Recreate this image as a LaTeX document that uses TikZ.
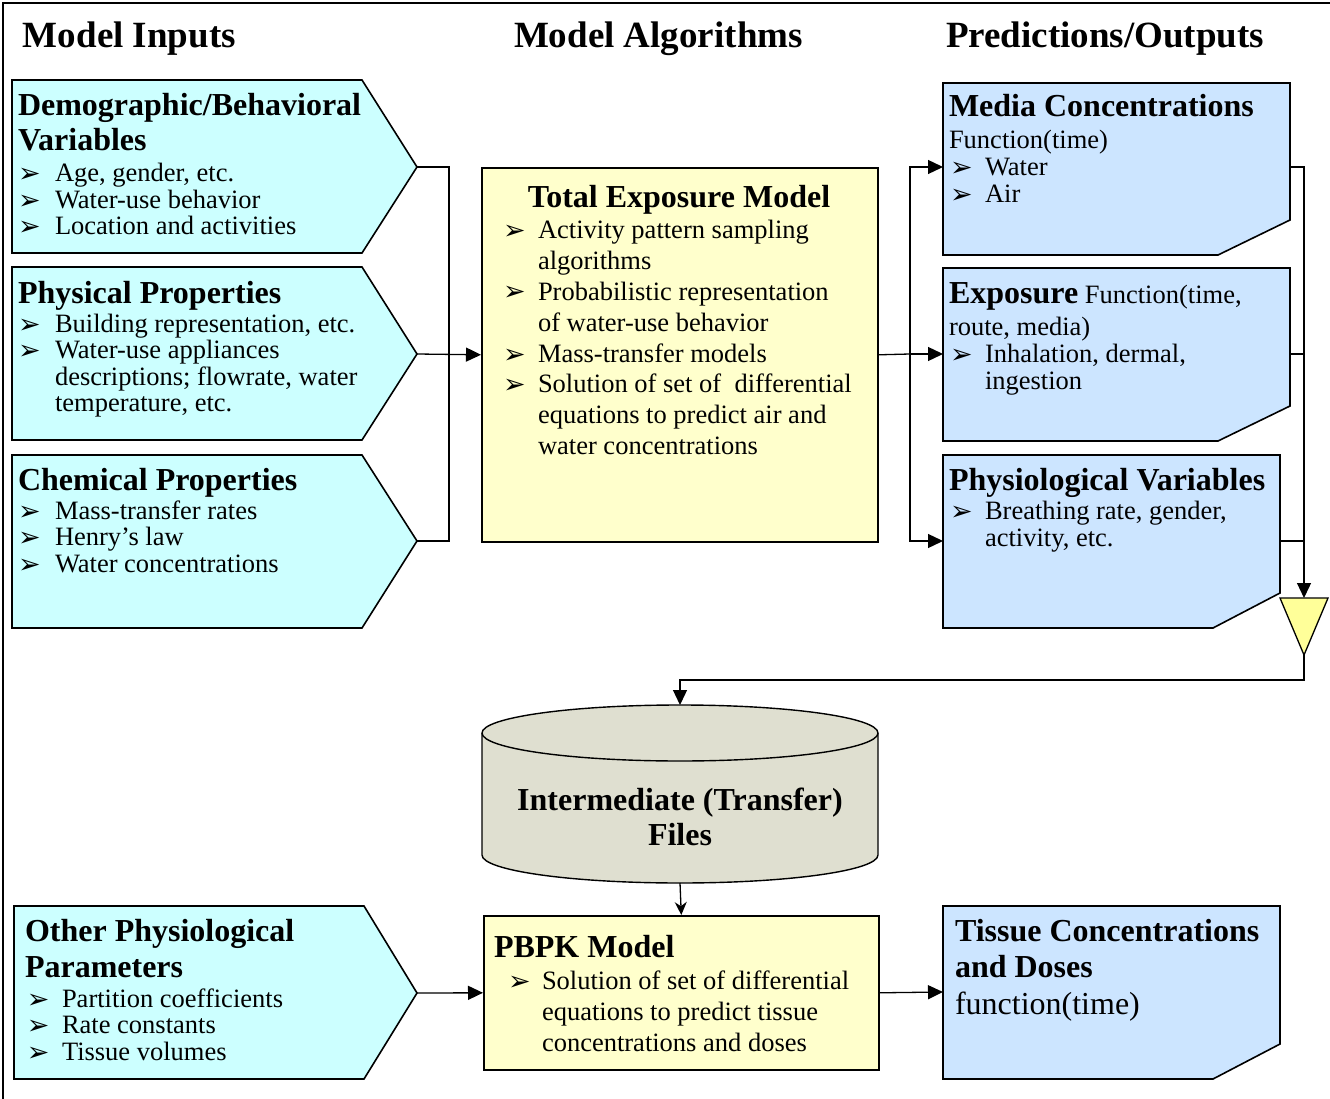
\documentclass[tikz,border=0pt]{standalone}
\usepackage{fontspec}
\setmainfont{Liberation Serif}
\newfontfamily\dvfont{DejaVu Sans}
\usetikzlibrary{arrows.meta}
\definecolor{cyanfill}{HTML}{CCFFFF}
\definecolor{bluefill}{HTML}{CCE5FF}
\definecolor{yelfill}{HTML}{FFFFCC}
\definecolor{trifill}{HTML}{FFFF99}
\definecolor{cylfill}{HTML}{DFDFD0}
\newcommand\sectf{\fontsize{37}{40}\selectfont\bfseries}
\newcommand\headf{\fontsize{32}{35}\selectfont\bfseries}
\newcommand\bodyf{\fontsize{26.5}{26.5}\selectfont}
\newcommand\bigf{\fontsize{32}{35}\selectfont}
\newcommand\bulglyph{{\dvfont\fontsize{27}{27}\selectfont ➢}}
\newcounter{tlc}
\newcommand\txtline[3]{\stepcounter{tlc}\node[txt] (t\arabic{tlc}) at (#1,#2) {#3};}
\newcommand\ctrline[3]{\stepcounter{tlc}\node[ctxt] (t\arabic{tlc}) at (#1,#2) {#3};}
\newcommand\bitem[4]{\stepcounter{tlc}\node[txt] (b\arabic{tlc}) at (#1,#3+1) {\bulglyph};\txtline{#2}{#3}{\bodyf #4}}
\begin{document}
\begin{tikzpicture}[x=1pt,y=-1pt,
  txt/.style={anchor=base west, inner sep=0pt, outer sep=0pt},
  ctxt/.style={anchor=base, inner sep=0pt, outer sep=0pt},
  inbox/.style={draw=black, line width=1.6pt, fill=cyanfill, line join=miter},
  outbox/.style={draw=black, line width=1.6pt, fill=bluefill, line join=miter},
  algbox/.style={draw=black, line width=1.6pt, fill=yelfill, inner sep=0pt, anchor=north west},
  conn/.style={draw=black, line width=1.3pt},
  arr/.style={conn, -{Triangle[length=15pt,width=14pt]}},
  arrsmall/.style={conn, -{Stealth[length=13pt,width=12pt]}}]
\useasboundingbox (0,0) rectangle (1330,1099);
\fill[white] (0,0) rectangle (1330,1099);
% frame
\draw[line width=1.2pt] (3,1099) -- (3,3) -- (1330,3);

% section titles
\txtline{23}{48}{\sectf Model Inputs}
\txtline{514}{48}{\sectf Model Algorithms}
\txtline{946}{48}{\sectf Predictions/Outputs}

% input boxes
\draw[inbox] (12,80) -- (362,80) -- (417,167) coordinate (demoTip) -- (362,253) -- (12,253) -- cycle;
\draw[inbox] (12,267) -- (362,267) -- (417,354) coordinate (physTip) -- (362,440) -- (12,440) -- cycle;
\draw[inbox] (12,455) -- (362,455) -- (417,541) coordinate (chemTip) -- (362,628) -- (12,628) -- cycle;
\draw[inbox] (14,906) -- (364,906) -- (417,993) coordinate (otherTip) -- (364,1079) -- (14,1079) -- cycle;

% algorithm boxes
\node[algbox, minimum width=396pt, minimum height=374pt] (tem) at (481,167) {};
\node[algbox, minimum width=395pt, minimum height=154pt] (pbpk) at (483,915) {};

% output boxes
\draw[outbox] (943,83) -- (1290,83) -- (1290,220) -- (1218,255) -- (943,255) -- cycle;
\draw[outbox] (943,268) -- (1290,268) -- (1290,406) -- (1218,441) -- (943,441) -- cycle;
\draw[outbox] (943,455) -- (1280,455) -- (1280,593) -- (1213,628) -- (943,628) -- cycle;
\draw[outbox] (943,906) -- (1280,906) -- (1280,1044) -- (1213,1079) -- (943,1079) -- cycle;
\coordinate (mediaW) at (943,167);
\coordinate (expoW) at (943,354);
\coordinate (physioW) at (943,541);
\coordinate (tissueW) at (943,992);
\coordinate (mediaE) at (1290,167);
\coordinate (expoE) at (1290,354);
\coordinate (physioE) at (1280,541);

% merge triangle
\filldraw[draw=black, line width=1.3pt, fill=trifill] (1280,598) -- (1304,598) coordinate (triTop) -- (1328,598) -- (1304,655) coordinate (triBot) -- cycle;

% cylinder
\filldraw[draw=black, line width=1.4pt, fill=cylfill]
  (482,733) -- (482,855) arc[start angle=180, end angle=360, x radius=198pt, y radius=28pt]
  -- (878,733) arc[start angle=0, end angle=180, x radius=198pt, y radius=28pt] -- cycle;
\draw[line width=1.4pt] (482,733) arc[start angle=180, end angle=360, x radius=198pt, y radius=28pt];
\coordinate (cylTop) at (680,705);
\coordinate (cylBot) at (680,883);

% junctions
\coordinate (jl) at (449,354);
\coordinate (jr) at (910,354);
\coordinate (jb) at (1304,680);

% connectors
\draw[conn] (demoTip) -| (jl) |- (chemTip);
\draw[arr] (physTip) -- (tem.west);
\draw[conn] (tem.east) -- (jr);
\draw[arr] (jr) |- (mediaW);
\draw[arr] (jr) -- (expoW);
\draw[arr] (jr) |- (physioW);
\draw[arr] (mediaE) -| (triTop);
\draw[conn] (expoE) -- (expoE -| triTop);
\draw[conn] (physioE) -- (physioE -| triTop);
\draw[arr] (triBot) -- (jb) -| (cylTop);
\draw[arrsmall] (cylBot) -- (pbpk.north);
\draw[arr] (otherTip) -- (pbpk.west);
\draw[arr] (pbpk.east) -- (tissueW);

% texts: demographic
\txtline{18}{116}{\headf Demographic/Behavioral}
\txtline{18}{151}{\headf Variables}
\bitem{18}{55}{182}{Age, gender, etc.}
\bitem{18}{55}{208.5}{Water-use behavior}
\bitem{18}{55}{235}{Location and activities}
% physical
\txtline{18}{303}{\headf Physical Properties}
\bitem{18}{55}{332}{Building representation, etc.}
\bitem{18}{55}{358.5}{Water-use appliances}
\txtline{55}{385}{\bodyf descriptions; flowrate, water}
\txtline{55}{411.5}{\bodyf temperature, etc.}
% chemical
\txtline{18}{490}{\headf Chemical Properties}
\bitem{18}{55}{519}{Mass-transfer rates}
\bitem{18}{55}{545.5}{Henry’s law}
\bitem{18}{55}{572}{Water concentrations}
% total exposure model
\ctrline{679}{208}{\headf Total Exposure Model}
\bitem{503}{538}{239}{Activity pattern sampling}
\txtline{538}{270}{\bodyf algorithms}
\bitem{503}{538}{300}{Probabilistic representation}
\txtline{538}{331}{\bodyf of water-use behavior}
\bitem{503}{538}{362}{Mass-transfer models}
\bitem{503}{538}{392}{Solution of set of\ \ differential}
\txtline{538}{423}{\bodyf equations to predict air and}
\txtline{538}{454}{\bodyf water concentrations}
% media
\txtline{949}{117}{\headf Media Concentrations}
\txtline{949}{149}{\bodyf Function(time)}
\bitem{950}{985}{176}{Water}
\bitem{950}{985}{203}{Air}
% exposure
\txtline{949}{303}{{\headf Exposure}{\bodyf\ Function(time,}}
\txtline{949}{335}{\bodyf route, media)}
\bitem{950}{985}{362}{Inhalation, dermal,}
\txtline{985}{389}{\bodyf ingestion}
% physiological
\txtline{949}{490}{\headf Physiological Variables}
\bitem{950}{985}{519}{Breathing rate, gender,}
\txtline{985}{546}{\bodyf activity, etc.}
% cylinder text
\ctrline{680}{810}{\headf Intermediate (Transfer)}
\ctrline{680}{845}{\headf Files}
% other physiological
\txtline{25}{941}{\headf Other Physiological}
\txtline{25}{977}{\headf Parameters}
\bitem{27}{62}{1007}{Partition coefficients}
\bitem{27}{62}{1033.5}{Rate constants}
\bitem{27}{62}{1060}{Tissue volumes}
% pbpk
\txtline{494}{957}{\headf PBPK Model}
\bitem{508}{542}{989}{Solution of set of differential}
\txtline{542}{1020}{\bodyf equations to predict tissue}
\txtline{542}{1051}{\bodyf concentrations and doses}
% tissue
\txtline{955}{941}{\headf Tissue Concentrations}
\txtline{955}{977}{\headf and Doses}
\txtline{955}{1014}{\bigf function(time)}
\end{tikzpicture}
\end{document}
